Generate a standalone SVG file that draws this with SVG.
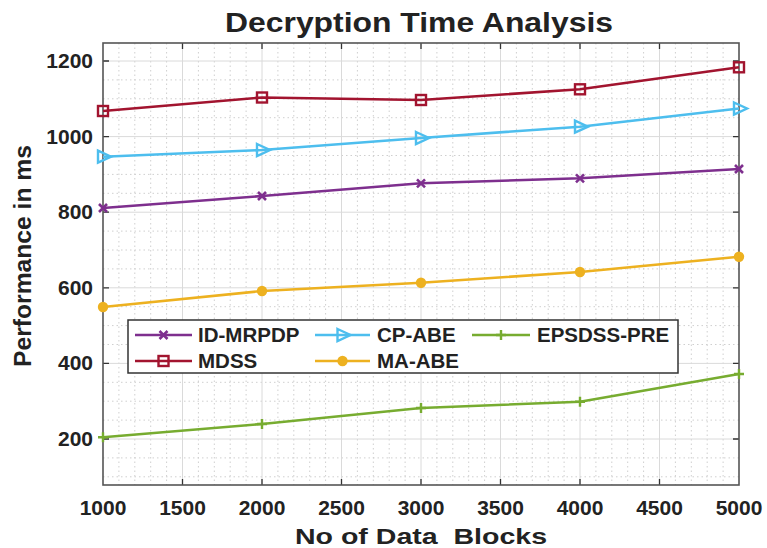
<svg xmlns="http://www.w3.org/2000/svg" width="767" height="548" viewBox="0 0 767 548">
  <style>
    text { font-family: "Liberation Sans", Arial, sans-serif; font-weight: bold; fill: #222; }
    .tick { font-size: 21px; }
    .ytl { text-anchor: end; }
    .xtl { text-anchor: middle; }
    .leg { font-size: 20.5px; }
    .minor { stroke: #cfcfcf; stroke-width: 1; stroke-dasharray: 1.5 3; fill: none; }
    .major { stroke: #dadada; stroke-width: 1; fill: none; }
    .axis { stroke: #555; stroke-width: 1.6; fill: none; }
    .ticks { stroke: #333; stroke-width: 1.3; fill: none; }
    .series { fill: none; stroke-width: 2.6; stroke-linejoin: round; }
    .s-id { stroke: #7E2F8E; marker-start: url(#m-id); marker-mid: url(#m-id); marker-end: url(#m-id); }
    .s-mdss { stroke: #A2142F; marker-start: url(#m-mdss); marker-mid: url(#m-mdss); marker-end: url(#m-mdss); }
    .s-cp { stroke: #4DBEEE; marker-start: url(#m-cp); marker-mid: url(#m-cp); marker-end: url(#m-cp); }
    .s-ma { stroke: #EDB120; marker-start: url(#m-ma); marker-mid: url(#m-ma); marker-end: url(#m-ma); }
    .s-eps { stroke: #77AC30; marker-start: url(#m-eps); marker-mid: url(#m-eps); marker-end: url(#m-eps); }
    .l-id { stroke: #7E2F8E; marker-mid: url(#m-id); }
    .l-mdss { stroke: #A2142F; marker-mid: url(#m-mdss); }
    .l-cp { stroke: #4DBEEE; marker-mid: url(#m-cp); }
    .l-ma { stroke: #EDB120; marker-mid: url(#m-ma); }
    .l-eps { stroke: #77AC30; marker-mid: url(#m-eps); }
  </style>
  <defs>
    <marker id="m-id" markerUnits="userSpaceOnUse" viewBox="-8 -8 16 16" markerWidth="16" markerHeight="16" refX="0" refY="0" orient="0" overflow="visible">
      <path d="M-4 -4 L4 4 M-4 4 L4 -4" stroke="#7E2F8E" stroke-width="2.6" fill="none"/>
    </marker>
    <marker id="m-mdss" markerUnits="userSpaceOnUse" viewBox="-8 -8 16 16" markerWidth="16" markerHeight="16" refX="0" refY="0" orient="0" overflow="visible">
      <rect x="-5" y="-5" width="10" height="10" stroke="#A2142F" stroke-width="2.4" fill="none"/>
    </marker>
    <marker id="m-cp" markerUnits="userSpaceOnUse" viewBox="-8 -8 16 16" markerWidth="16" markerHeight="16" refX="0" refY="0" orient="0" overflow="visible">
      <path d="M-5 -6 L8 0 L-5 6 Z" stroke="#4DBEEE" stroke-width="2.4" fill="none" stroke-linejoin="miter"/>
    </marker>
    <marker id="m-ma" markerUnits="userSpaceOnUse" viewBox="-8 -8 16 16" markerWidth="16" markerHeight="16" refX="0" refY="0" orient="0" overflow="visible">
      <circle r="5.2" fill="#EDB120"/>
    </marker>
    <marker id="m-eps" markerUnits="userSpaceOnUse" viewBox="-8 -8 16 16" markerWidth="16" markerHeight="16" refX="0" refY="0" orient="0" overflow="visible">
      <path d="M-5 0 L5 0 M0 -5 L0 5" stroke="#77AC30" stroke-width="2.4" fill="none"/>
    </marker>
  </defs>

  <rect width="767" height="548" fill="#ffffff"/>

  <!-- title -->
  <text x="419" y="32" font-size="27" text-anchor="middle" textLength="388" lengthAdjust="spacingAndGlyphs">Decryption Time Analysis</text>

  <!-- plot area -->
  <g id="axes">
    <rect x="103" y="43" width="636" height="442" fill="#ffffff"/>
    <!-- minor grid -->
    <path class="minor" d="M118.9 43V485M134.8 43V485M150.7 43V485M166.6 43V485M198.4 43V485M214.3 43V485M230.2 43V485M246.1 43V485M277.9 43V485M293.8 43V485M309.7 43V485M325.6 43V485M357.4 43V485M373.3 43V485M389.2 43V485M405.1 43V485M436.9 43V485M452.8 43V485M468.7 43V485M484.6 43V485M516.4 43V485M532.3 43V485M548.2 43V485M564.1 43V485M595.9 43V485M611.8 43V485M627.7 43V485M643.6 43V485M675.4 43V485M691.3 43V485M707.2 43V485M723.1 43V485"/>
    <path class="minor" d="M103 79.9H739M103 98.8H739M103 117.7H739M103 155.5H739M103 174.4H739M103 193.3H739M103 231.1H739M103 250H739M103 268.9H739M103 306.7H739M103 325.6H739M103 344.5H739M103 382.3H739M103 401.2H739M103 420.1H739M103 457.9H739M103 476.8H739"/>
    <!-- major grid -->
    <path class="major" d="M182.5 43V485M262 43V485M341.5 43V485M421 43V485M500.5 43V485M580 43V485M659.5 43V485"/>
    <path class="major" d="M103 61H739M103 136.6H739M103 212.2H739M103 287.8H739M103 363.4H739M103 439H739"/>
    <!-- tick marks on all four sides -->
    <path class="ticks" d="M182.5 485v-6M262 485v-6M341.5 485v-6M421 485v-6M500.5 485v-6M580 485v-6M659.5 485v-6M182.5 43v6M262 43v6M341.5 43v6M421 43v6M500.5 43v6M580 43v6M659.5 43v6"/>
    <path class="ticks" d="M103 61h6M103 136.6h6M103 212.2h6M103 287.8h6M103 363.4h6M103 439h6M739 61h-6M739 136.6h-6M739 212.2h-6M739 287.8h-6M739 363.4h-6M739 439h-6"/>
    <rect class="axis" x="103" y="43" width="636" height="442"/>
  </g>

  <!-- tick labels -->
  <g id="y-ticks" class="tick">
    <text class="ytl" x="93" y="68">1200</text>
    <text class="ytl" x="93" y="143.6">1000</text>
    <text class="ytl" x="93" y="219.2">800</text>
    <text class="ytl" x="93" y="294.8">600</text>
    <text class="ytl" x="93" y="370.4">400</text>
    <text class="ytl" x="93" y="446">200</text>
  </g>
  <g id="x-ticks" class="tick">
    <text class="xtl" x="103" y="515">1000</text>
    <text class="xtl" x="182.5" y="515">1500</text>
    <text class="xtl" x="262" y="515">2000</text>
    <text class="xtl" x="341.5" y="515">2500</text>
    <text class="xtl" x="421" y="515">3000</text>
    <text class="xtl" x="500.5" y="515">3500</text>
    <text class="xtl" x="580" y="515">4000</text>
    <text class="xtl" x="659.5" y="515">4500</text>
    <text class="xtl" x="739" y="515">5000</text>
  </g>

  <!-- axis labels -->
  <text x="421" y="544" font-size="22" text-anchor="middle" xml:space="preserve" textLength="252" lengthAdjust="spacingAndGlyphs">No of Data  Blocks</text>
  <text transform="translate(31 256) rotate(-90)" font-size="23" text-anchor="middle" textLength="222" lengthAdjust="spacingAndGlyphs">Performance in ms</text>

  <!-- data series -->
  <g id="series">
    <polyline id="mdss" class="series s-mdss" points="103,111 262,97.5 421,100 580,89.3 739,67.3"/>
    <polyline id="cp-abe" class="series s-cp" points="103,156.7 262,150 421,138 580,126.7 739,108.5"/>
    <polyline id="id-mrpdp" class="series s-id" points="103,208 262,196 421,183.3 580,178.3 739,169"/>
    <polyline id="ma-abe" class="series s-ma" points="103,307 262,291 421,282.7 580,272 739,256.7"/>
    <polyline id="epsdss-pre" class="series s-eps" points="103,437.3 262,424 421,408 580,401.7 739,374"/>
  </g>

  <!-- legend -->
  <g id="legend">
    <rect x="128" y="320" width="550" height="53" fill="#ffffff" stroke="#333" stroke-width="1.5"/>
    <g id="leg-id">
      <polyline class="series l-id" points="135,335 163.5,335 192,335"/>
      <text class="leg" x="198" y="342">ID-MRPDP</text>
    </g>
    <g id="leg-mdss">
      <polyline class="series l-mdss" points="135,361 163.5,361 192,361"/>
      <text class="leg" x="198" y="368">MDSS</text>
    </g>
    <g id="leg-cp">
      <polyline class="series l-cp" points="315,335 342.5,335 370,335"/>
      <text class="leg" x="377" y="342">CP-ABE</text>
    </g>
    <g id="leg-ma">
      <polyline class="series l-ma" points="315,361 342.5,361 370,361"/>
      <text class="leg" x="377" y="368">MA-ABE</text>
    </g>
    <g id="leg-eps">
      <polyline class="series l-eps" points="472,335 501,335 530,335"/>
      <text class="leg" x="537" y="342">EPSDSS-PRE</text>
    </g>
  </g>
</svg>
